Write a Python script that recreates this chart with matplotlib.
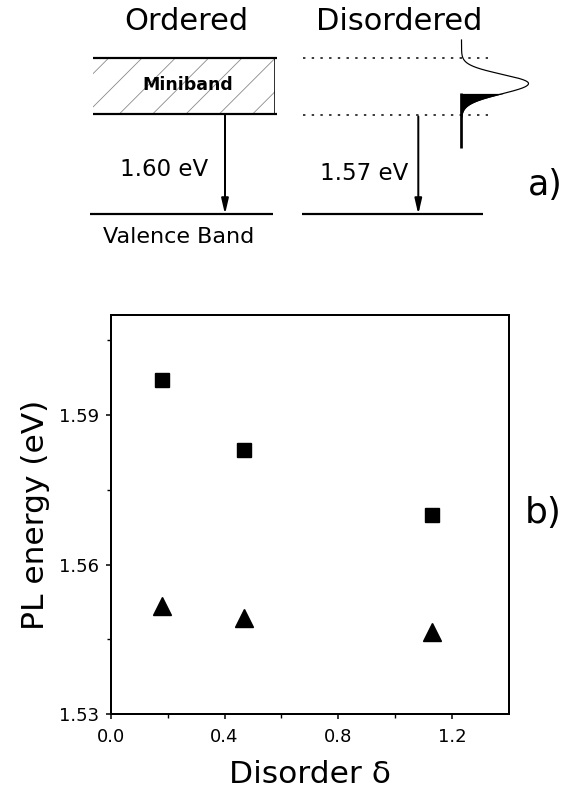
import numpy as np
import matplotlib
matplotlib.use("Agg")
import matplotlib.pyplot as plt
from matplotlib.patches import Rectangle

plt.rcParams['font.family'] = ['DejaVu Sans']
plt.rcParams['hatch.linewidth'] = 0.6

# ---- data (panel b) ----
disorder = [0.18, 0.47, 1.13]
pl_square = [1.597, 1.583, 1.570]
pl_triangle = [1.5516, 1.5492, 1.5465]
xticks = [0.0, 0.4, 0.8, 1.2]
yticks = [1.53, 1.56, 1.59]
xlabel = "Disorder \u03b4"
ylabel = "PL energy (eV)"

W, H = 575, 791
fig = plt.figure(figsize=(W / 100, H / 100), dpi=100)

# ---- schematic (panel a) drawn in pixel space ----
ax0 = fig.add_axes([0, 0, 1, 1])
ax0.set_xlim(0, W)
ax0.set_ylim(H, 0)
ax0.set_axis_off()
ax0.patch.set_visible(False)

px = 0.72  # points per pixel

# Ordered side
ax0.add_patch(Rectangle((93, 57.5), 182, 56.8, facecolor='white',
                        edgecolor='#8a8a8a', linewidth=0, hatch='/'))
ax0.plot([93, 277], [57.5, 57.5], color='black', lw=2.2 * px, solid_capstyle='butt')
ax0.plot([93, 277], [114.3, 114.3], color='black', lw=2.2 * px, solid_capstyle='butt')
ax0.plot([274, 274], [57.5, 114.3], color='black', lw=0.8 * px)
ax0.plot([90, 273], [214.3, 214.3], color='black', lw=2.2 * px, solid_capstyle='butt')
ax0.annotate('', xy=(225, 214.3), xytext=(225, 114.3),
             arrowprops=dict(arrowstyle='-|>,head_length=1.3,head_width=0.3',
                             mutation_scale=7, lw=2.0 * px, color='black',
                             shrinkA=0, shrinkB=0))
ax0.text(186, 30, "Ordered", fontsize=22, ha='center', va='baseline')
ax0.text(187.5, 90, "Miniband", fontsize=12.5, fontweight='bold', ha='center', va='baseline')
ax0.text(163.8, 176, "1.60 eV", fontsize=16.5, ha='center', va='baseline')
ax0.text(179, 243.3, "Valence Band", fontsize=16, ha='center', va='baseline')

# Disordered side
for yy in (57.7, 115.0):
    ax0.plot([303, 488], [yy, yy], color='black', lw=1.5 * px,
             linestyle=(0, (1.6, 4.2)))
ax0.plot([301.7, 483.3], [214.3, 214.3], color='black', lw=2.2 * px, solid_capstyle='butt')
ax0.annotate('', xy=(418.3, 214.3), xytext=(418.3, 116.5),
             arrowprops=dict(arrowstyle='-|>,head_length=1.3,head_width=0.3',
                             mutation_scale=7, lw=2.0 * px, color='black',
                             shrinkA=0, shrinkB=0))
ax0.text(399, 30, "Disordered", fontsize=22, ha='center', va='baseline')
ax0.text(364, 180, "1.57 eV", fontsize=16.5, ha='center', va='baseline')

# density-of-states sketch
ys = np.linspace(40, 117, 500)
sig = np.where(ys < 83.5, 13.0, 14.5)
xs = 461.5 + 67.0 * np.exp(-((ys - 83.5) / sig) ** 2)
ax0.plot(xs, ys, color='black', lw=1.2 * px)
m = ys >= 93.3
ax0.fill_betweenx(ys[m], 461.0, xs[m], color='black', lw=0)
ax0.plot([461.3, 461.3], [93.3, 148.3], color='black', lw=2.7 * px, solid_capstyle='butt')

ax0.text(528, 195, "a)", fontsize=25, ha='left', va='baseline')
ax0.text(525, 523.3, "b)", fontsize=26, ha='left', va='baseline')

# ---- panel b ----
left, right, top, bottom = 110.7, 509.0, 315.0, 714.3
ax = fig.add_axes([left / W, (H - bottom) / H, (right - left) / W, (bottom - top) / H])
ax.plot(disorder, pl_square, linestyle='none', marker='s', markersize=10,
        color='black')
ax.plot(disorder, pl_triangle, linestyle='none', marker='^', markersize=13,
        color='black')
ax.set_xlim(0.0, 1.4)
ax.set_ylim(1.53, 1.61)
ax.set_xticks(xticks)
ax.set_xticklabels([f"{v:.1f}" for v in xticks])
ax.set_yticks(yticks)
ax.set_yticklabels([f"{v:.2f}" for v in yticks])
ax.set_xticks([0.2, 0.6, 1.0], minor=True)
ax.set_yticks([1.545, 1.575, 1.605], minor=True)
for s in ax.spines.values():
    s.set_linewidth(2.0 * px)
ax.tick_params(which='major', direction='out', length=3.6, width=1.1, labelsize=13)
ax.tick_params(which='minor', direction='out', length=2.6, width=1.0)
ax.tick_params(axis='y', which='major', pad=5)
ax.tick_params(axis='x', which='major', pad=6)
ax.set_xlabel(xlabel, fontsize=22.5, va='baseline')
ax.xaxis.set_label_coords(0.5, (bottom - 783.3) / (bottom - top))
ax.set_ylabel(ylabel, fontsize=22.5, va='center')
ax.yaxis.set_label_coords((36 - left) / (right - left), 0.5)

fig.savefig("out.png", dpi=100)
